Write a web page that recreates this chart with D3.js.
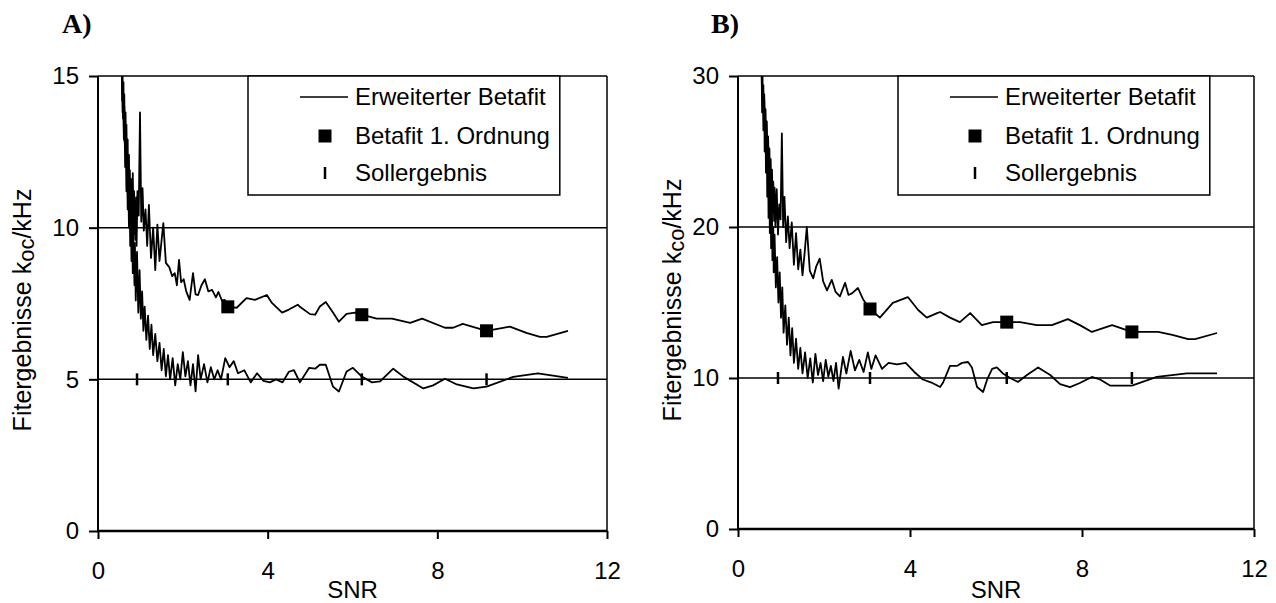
<!DOCTYPE html>
<html>
<head>
<meta charset="utf-8">
<script src="https://cdn.jsdelivr.net/npm/d3@7"></script>
<style>
    body { margin: 0; background: #fff; }
    text { font-family: "Liberation Sans", Arial, sans-serif; fill: #000; }
</style>
</head>
<body>
<div id="chart"></div>
<script>
// ---- data ----
const xTicks = [0, 4, 8, 12];
const yTicksA = [0, 5, 10, 15];
const yTicksB = [0, 10, 20, 30];

// panel A: extended beta fit, upper branch [SNR, k]
const upperA = [
    [0.56, 15.3], [0.57, 14.2], [0.58, 15.0], [0.59, 13.6], [0.60, 14.8], [0.61, 13.2], [0.62, 14.4],
    [0.63, 12.8], [0.65, 13.8], [0.66, 12.2], [0.67, 13.4], [0.69, 11.6], [0.70, 12.9], [0.71, 11.0],
    [0.73, 12.4], [0.74, 10.6], [0.75, 11.9], [0.77, 10.4], [0.78, 11.6], [0.80, 10.1], [0.82, 11.8],
    [0.84, 9.8], [0.85, 11.2], [0.88, 9.6], [0.90, 11.0], [0.91, 9.4], [0.93, 11.2], [0.96, 10.4],
    [0.99, 13.8], [1.02, 10.2], [1.05, 11.3], [1.08, 9.9], [1.12, 10.6], [1.16, 9.4], [1.20, 10.75],
    [1.25, 9.0], [1.30, 10.0], [1.35, 8.6], [1.40, 10.1], [1.45, 8.9], [1.50, 9.6], [1.54, 10.15],
    [1.60, 8.84], [1.68, 8.7], [1.75, 8.4], [1.81, 8.5], [1.86, 8.1], [1.91, 8.94], [1.96, 8.2],
    [2.02, 8.3], [2.08, 7.9], [2.16, 7.62], [2.24, 8.5], [2.30, 7.8], [2.36, 7.78], [2.44, 8.1],
    [2.52, 8.3], [2.60, 7.9], [2.69, 7.95], [2.78, 7.7], [2.84, 7.88], [2.92, 7.6], [2.99, 7.62],
    [3.06, 7.39], [3.27, 7.36], [3.50, 7.68], [3.70, 7.62], [3.98, 7.78], [4.10, 7.52], [4.34, 7.2],
    [4.50, 7.3], [4.71, 7.46], [4.76, 7.39], [5.00, 7.15], [5.12, 7.13], [5.23, 7.4], [5.37, 7.55],
    [5.54, 7.2], [5.68, 6.9], [5.86, 7.16], [6.06, 7.2], [6.22, 7.13], [6.57, 7.0], [6.93, 7.0],
    [7.36, 6.86], [7.64, 7.0], [8.18, 6.7], [8.37, 6.7], [8.60, 6.83], [9.16, 6.6], [9.71, 6.74],
    [10.1, 6.53], [10.42, 6.4], [10.58, 6.4], [11.08, 6.6]
];
// panel A: lower branch
const lowerA = [
    [0.56, 15.3], [0.58, 13.8], [0.59, 14.6], [0.61, 12.9], [0.62, 14.0], [0.64, 12.0], [0.65, 13.2],
    [0.67, 11.2], [0.68, 12.6], [0.70, 10.6], [0.71, 11.9], [0.73, 10.0], [0.74, 11.4], [0.76, 9.4],
    [0.77, 10.8], [0.79, 8.9], [0.80, 10.5], [0.82, 8.5], [0.83, 9.9], [0.86, 8.1], [0.87, 9.5],
    [0.89, 7.6], [0.92, 9.2], [0.95, 7.2], [0.98, 8.6], [1.01, 7.0], [1.04, 7.9], [1.07, 6.6],
    [1.10, 7.4], [1.14, 6.3], [1.18, 7.1], [1.22, 6.0], [1.26, 6.8], [1.30, 5.8], [1.35, 6.5],
    [1.40, 5.6], [1.45, 6.2], [1.50, 5.3], [1.55, 6.0], [1.60, 5.1], [1.65, 5.8], [1.70, 5.0],
    [1.76, 5.7], [1.82, 4.8], [1.88, 5.5], [1.94, 5.0], [2.00, 5.9], [2.06, 5.1], [2.12, 5.6],
    [2.18, 4.8], [2.24, 5.5], [2.30, 4.6], [2.36, 5.8], [2.42, 5.0], [2.50, 5.5], [2.58, 4.9],
    [2.66, 5.4], [2.74, 5.0], [2.82, 5.3], [2.90, 5.0], [3.00, 5.7], [3.10, 5.4], [3.20, 5.6],
    [3.30, 5.2], [3.45, 5.3], [3.60, 4.9], [3.75, 5.2], [3.90, 4.95], [4.05, 4.9], [4.20, 5.0],
    [4.35, 4.9], [4.50, 5.25], [4.62, 5.3], [4.76, 4.9], [4.98, 5.38], [5.12, 5.35], [5.23, 5.48],
    [5.37, 5.48], [5.54, 4.76], [5.68, 4.6], [5.86, 5.26], [6.01, 5.38], [6.22, 5.09], [6.46, 4.9],
    [6.65, 4.93], [6.96, 5.35], [7.20, 5.09], [7.67, 4.7], [7.90, 4.8], [8.18, 5.02], [8.46, 4.83],
    [8.85, 4.7], [9.16, 4.76], [9.79, 5.08], [10.37, 5.2], [11.08, 5.05]
];
const firstOrderA = [[3.06, 7.39], [6.22, 7.13], [9.16, 6.6]];
const targetA = [[0.92, 5], [3.06, 5], [6.22, 5], [9.16, 5]];

// panel B
const upperB = [
    [0.55, 30.5], [0.56, 28.4], [0.57, 30.0], [0.58, 27.6], [0.59, 29.4], [0.60, 27.0], [0.61, 28.8],
    [0.63, 26.0], [0.64, 27.8], [0.66, 25.0], [0.67, 27.0], [0.69, 24.0], [0.70, 26.0], [0.72, 23.2],
    [0.73, 25.2], [0.75, 22.0], [0.76, 24.5], [0.78, 21.6], [0.79, 23.8], [0.81, 21.0], [0.82, 23.0],
    [0.84, 20.4], [0.85, 22.6], [0.87, 20.0], [0.90, 22.5], [0.93, 19.5], [0.96, 21.5], [0.99, 20.5],
    [1.02, 26.2], [1.05, 20.0], [1.08, 22.0], [1.12, 19.0], [1.16, 20.7], [1.20, 18.6], [1.25, 20.3],
    [1.30, 17.5], [1.35, 19.6], [1.40, 17.2], [1.45, 18.5], [1.50, 16.8], [1.55, 18.3], [1.60, 20.0],
    [1.67, 17.1], [1.75, 16.6], [1.82, 17.4], [1.90, 17.9], [1.98, 16.4], [2.07, 15.8], [2.18, 16.5],
    [2.27, 15.7], [2.37, 15.4], [2.49, 16.3], [2.57, 15.5], [2.65, 15.6], [2.79, 15.96], [2.91, 15.2],
    [3.07, 14.57], [3.30, 14.0], [3.60, 14.97], [3.95, 15.36], [4.19, 14.5], [4.39, 14.0], [4.63, 14.3],
    [4.70, 14.37], [4.93, 14.0], [5.16, 13.7], [5.40, 14.3], [5.67, 13.5], [5.93, 13.7], [6.25, 13.7],
    [6.56, 13.7], [6.95, 13.5], [7.30, 13.5], [7.67, 13.9], [7.95, 13.5], [8.23, 13.05], [8.70, 13.5],
    [9.16, 13.05], [9.77, 13.05], [10.1, 12.85], [10.47, 12.58], [10.63, 12.58], [11.14, 12.98]
];
const lowerB = [
    [0.55, 30.5], [0.56, 27.6], [0.58, 29.2], [0.59, 26.4], [0.61, 28.4], [0.62, 25.0], [0.64, 27.0],
    [0.65, 23.6], [0.67, 25.8], [0.68, 22.0], [0.70, 24.4], [0.71, 20.6], [0.73, 23.5], [0.74, 19.6],
    [0.76, 22.0], [0.77, 18.6], [0.79, 21.5], [0.80, 17.8], [0.82, 20.0], [0.83, 17.0], [0.85, 19.5],
    [0.88, 16.0], [0.91, 18.0], [0.94, 15.0], [0.97, 17.0], [1.00, 14.0], [1.03, 16.0], [1.06, 13.0],
    [1.10, 14.8], [1.14, 12.2], [1.18, 14.0], [1.22, 11.5], [1.26, 13.3], [1.30, 11.0], [1.35, 12.6],
    [1.40, 10.6], [1.45, 12.0], [1.50, 10.3], [1.56, 11.7], [1.62, 10.0], [1.68, 11.3], [1.74, 9.7],
    [1.80, 11.6], [1.86, 10.2], [1.92, 11.0], [1.98, 9.8], [2.04, 11.2], [2.10, 10.1], [2.16, 10.8],
    [2.22, 9.8], [2.28, 11.0], [2.34, 9.3], [2.44, 11.4], [2.52, 10.3], [2.62, 11.8], [2.72, 10.5],
    [2.82, 11.2], [2.92, 10.4], [3.02, 11.7], [3.10, 10.6], [3.20, 11.5], [3.35, 10.6], [3.50, 11.0],
    [3.70, 10.9], [3.90, 11.0], [4.10, 10.4], [4.30, 9.9], [4.50, 9.7], [4.70, 9.4], [4.77, 9.7],
    [4.93, 10.8], [5.09, 10.8], [5.21, 11.0], [5.35, 11.06], [5.44, 10.7], [5.56, 9.4], [5.70, 9.07],
    [5.79, 9.87], [5.91, 10.6], [6.02, 10.7], [6.16, 10.3], [6.33, 10.0], [6.51, 9.74], [6.72, 10.2],
    [6.98, 10.7], [7.26, 10.2], [7.49, 9.6], [7.72, 9.4], [7.95, 9.67], [8.23, 10.07], [8.42, 9.9],
    [8.65, 9.5], [9.16, 9.5], [9.74, 10.07], [10.44, 10.3], [11.14, 10.3]
];
const firstOrderB = [[3.07, 14.57], [6.25, 13.7], [9.16, 13.05]];
const targetB = [[0.93, 10], [3.07, 10], [6.25, 10], [9.16, 10]];

const legendLabels = ["Erweiterter Betafit", "Betafit 1. Ordnung", "Sollergebnis"];

const fullW = 1276, fullH = 603;

const svg = d3.select("#chart")
    .append("svg")
    .attr("width", fullW)
    .attr("height", fullH);

function drawPanel(p) {
    const width = p.right - p.left;
    const height = p.bottom - p.top;

    const g = svg.append("g")
        .attr("transform", "translate(" + p.left + "," + p.top + ")");

    const x = d3.scaleLinear().domain([0, 12]).range([0, width]);
    const y = d3.scaleLinear().domain([0, p.yMax]).range([height, 0]);

    // gridlines
    g.selectAll(".grid")
        .data(p.yTicks.filter(d => d > 0))
        .enter().append("line")
        .attr("x1", 0).attr("x2", width)
        .attr("y1", d => y(d)).attr("y2", d => y(d))
        .attr("stroke", "#000").attr("stroke-width", 1.5);

    // right border
    g.append("line")
        .attr("x1", width).attr("x2", width)
        .attr("y1", 0).attr("y2", height)
        .attr("stroke", "#000").attr("stroke-width", 1.5);

    // axes
    const yAxis = g.append("g")
        .call(d3.axisLeft(y).tickValues(p.yTicks).tickSize(9).tickPadding(10));
    const xAxis = g.append("g")
        .attr("transform", "translate(0," + height + ")")
        .call(d3.axisBottom(x).tickValues(xTicks).tickSize(8).tickPadding(23));
    [yAxis, xAxis].forEach(ax => {
        ax.select(".domain").remove();
        ax.selectAll("line").attr("stroke", "#000").attr("stroke-width", 2);
        ax.selectAll("text")
            .style("font-family", "'Liberation Sans', Arial, sans-serif")
            .style("font-size", "24px")
            .attr("fill", "#000");
    });
    g.append("line")
        .attr("x1", 0).attr("x2", 0).attr("y1", 0).attr("y2", height)
        .attr("stroke", "#000").attr("stroke-width", 2);
    g.append("line")
        .attr("x1", 0).attr("x2", width).attr("y1", height).attr("y2", height)
        .attr("stroke", "#000").attr("stroke-width", 2.5);

    // curves
    const clipId = "clip" + p.name;
    g.append("clipPath").attr("id", clipId)
        .append("rect").attr("width", width).attr("height", height);

    const line = d3.line().x(d => x(d[0])).y(d => y(d[1]));

    [p.upper, p.lower].forEach(series => {
        g.append("path")
            .datum(series)
            .attr("clip-path", "url(#" + clipId + ")")
            .attr("fill", "none")
            .attr("stroke", "#000")
            .attr("stroke-width", 1.8)
            .attr("stroke-linejoin", "round")
            .attr("d", line);
    });

    // Sollergebnis markers
    g.selectAll(".target")
        .data(p.target)
        .enter().append("line")
        .attr("x1", d => x(d[0])).attr("x2", d => x(d[0]))
        .attr("y1", d => y(d[1]) - 6).attr("y2", d => y(d[1]) + 6)
        .attr("stroke", "#000").attr("stroke-width", 2.5);

    // Betafit 1. Ordnung markers
    g.selectAll(".square")
        .data(p.firstOrder)
        .enter().append("rect")
        .attr("x", d => x(d[0]) - 6.5)
        .attr("y", d => y(d[1]) - 6.5)
        .attr("width", 13).attr("height", 13)
        .attr("fill", "#000");

    // legend
    const legend = svg.append("g")
        .attr("transform", "translate(" + p.legendX + "," + p.top + ")");
    const box = legend.append("rect")
        .attr("x", 0).attr("y", 0)
        .attr("height", 119)
        .attr("fill", "#fff")
        .attr("stroke", "#000").attr("stroke-width", 1.5);
    const rowsY = [21, 60, 97];
    const texts = legend.selectAll(".legend-text")
        .data(legendLabels)
        .enter().append("text")
        .attr("x", 107)
        .attr("y", (d, i) => rowsY[i])
        .attr("dy", "0.35em")
        .style("font-size", "24px")
        .text(d => d);
    let maxW = 0;
    texts.each(function () { maxW = Math.max(maxW, this.getComputedTextLength()); });
    box.attr("width", 107 + maxW + 10);

    legend.append("line")
        .attr("x1", 52).attr("x2", 100)
        .attr("y1", rowsY[0]).attr("y2", rowsY[0])
        .attr("stroke", "#000").attr("stroke-width", 1.6);
    legend.append("rect")
        .attr("x", 77 - 6.5).attr("y", rowsY[1] - 6.5)
        .attr("width", 13).attr("height", 13)
        .attr("fill", "#000");
    legend.append("line")
        .attr("x1", 77).attr("x2", 77)
        .attr("y1", rowsY[2] - 6).attr("y2", rowsY[2] + 6)
        .attr("stroke", "#000").attr("stroke-width", 2.5);

    // axis titles
    svg.append("text")
        .attr("x", p.left + width / 2)
        .attr("y", 598)
        .attr("text-anchor", "middle")
        .style("font-size", "24px")
        .text("SNR");

    const yl = svg.append("text")
        .attr("transform", "translate(" + p.yLabelX + "," + p.yLabelY + ") rotate(-90)")
        .attr("text-anchor", "middle")
        .attr("dy", "0.35em")
        .style("font-size", "25px");
    yl.append("tspan").text("Fitergebnisse k");
    yl.append("tspan").attr("dy", "3").style("font-size", "22px").text(p.sub);
    yl.append("tspan").attr("dy", "-3").text("/kHz");

    // panel letter
    svg.append("text")
        .attr("x", p.letterX)
        .attr("y", 33)
        .style("font-family", "'Liberation Serif', 'Times New Roman', serif")
        .style("font-weight", "bold")
        .style("font-size", "28px")
        .text(p.name + ")");
}

drawPanel({
    name: "A", left: 98, right: 607, top: 76, bottom: 531,
    yMax: 15, yTicks: yTicksA, upper: upperA, lower: lowerA,
    firstOrder: firstOrderA, target: targetA,
    legendX: 248, yLabelX: 22, yLabelY: 310, sub: "oc", letterX: 62
});
drawPanel({
    name: "B", left: 738, right: 1254, top: 76, bottom: 529,
    yMax: 30, yTicks: yTicksB, upper: upperB, lower: lowerB,
    firstOrder: firstOrderB, target: targetB,
    legendX: 898, yLabelX: 672, yLabelY: 300, sub: "co", letterX: 711
});
</script>
</body>
</html>
